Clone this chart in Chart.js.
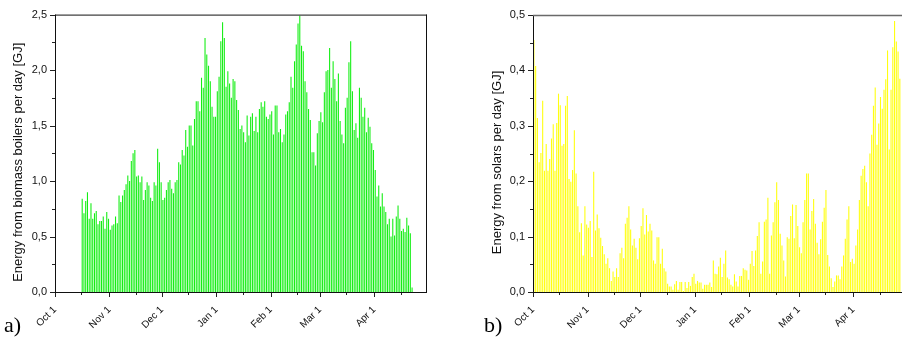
<!DOCTYPE html>
<html>
<head>
<meta charset="utf-8">
<script src="https://cdn.jsdelivr.net/npm/chart.js@4.4.1/dist/chart.umd.min.js"></script>
<style>
  body { margin: 0; width: 902px; height: 337px; overflow: hidden; position: relative; background: #fff; }
  canvas { position: absolute; top: 0; }
  .tag { position: absolute; top: 314px; font: 22px "Liberation Serif", "Times New Roman", serif; line-height: 22px; color: #000; }
</style>
</head>
<body>
<canvas id="chartA" width="450" height="337" style="left:0"></canvas>
<canvas id="chartB" width="460" height="337" style="left:450px"></canvas>
<div class="tag" style="left:4px">a)</div>
<div class="tag" style="left:484px">b)</div>
<script>
// days counted from Oct 1
const monthStarts = [0, 31, 61, 92, 123, 151, 182];
const monthLabels = ["Oct 1", "Nov 1", "Dec 1", "Jan 1", "Feb 1", "Mar 1", "Apr 1"];
const dayMax = 212;

// biomass boilers, GJ per day, first bar on day 15
const biomassFirstDay = 15;
const biomass = [
  0.84, 0.71, 0.82, 0.90, 0.66, 0.80, 0.66, 0.71, 0.73, 0.61,
  0.64, 0.64, 0.68, 0.57, 0.72, 0.66, 0.56, 0.60, 0.61, 0.68,
  0.62, 0.87, 0.81, 0.87, 0.92, 0.97, 1.05, 1.00, 1.18, 1.25,
  1.28, 1.04, 1.05, 0.99, 1.04, 0.83, 0.92, 0.99, 0.96, 0.85,
  0.82, 0.99, 0.96, 1.29, 1.17, 0.99, 0.83, 0.85, 0.92, 0.99,
  1.01, 0.93, 0.89, 0.99, 1.01, 1.17, 1.15, 1.28, 1.23, 1.46,
  1.31, 1.50, 1.50,
  1.32, 1.56, 1.72, 1.72, 1.63, 1.93, 1.84, 2.29, 2.14, 2.04,
  1.90, 1.67, 1.58, 1.58, 1.81, 1.94, 2.26, 2.43, 2.29, 1.85,
  1.99, 1.88, 1.75, 1.92, 1.90, 1.73, 1.64, 1.47, 1.50, 1.44,
  1.35, 1.59, 1.41, 1.58, 1.61, 1.45, 1.58, 1.44, 1.65, 1.71,
  1.67, 1.72, 1.58, 1.56, 1.60, 1.63, 1.42, 1.68, 1.68, 1.44,
  1.47, 1.35, 1.42, 1.60, 1.63, 1.71, 1.94, 1.84, 2.08, 2.23,
  2.42, 2.49, 2.22, 2.17,
  1.90, 1.80, 1.65, 1.55, 1.26, 1.26, 1.14, 1.43, 1.54, 1.62,
  1.53, 1.80, 1.99, 2.00, 2.20, 1.84, 2.08, 1.92, 1.72, 1.97,
  1.54, 1.42, 1.34, 1.66, 1.75, 2.07, 2.26, 1.81, 1.46, 1.52,
  1.39, 1.84, 1.75, 1.58, 1.66, 1.44, 1.57, 1.49, 1.34, 1.28,
  1.10, 0.86, 0.96, 0.77, 0.89, 0.77, 0.72, 0.61, 0.66, 0.50,
  0.66, 0.51, 0.68, 0.78, 0.66, 0.55, 0.57, 0.54, 0.67, 0.60,
  0.53, 0.04
];

// solar collectors, GJ per day, first bar on day 0
const solarFirstDay = 0;
const solar = [
  0.455, 0.408, 0.314, 0.234, 0.251, 0.345, 0.219, 0.267, 0.219, 0.240,
  0.277, 0.303, 0.219, 0.305, 0.358, 0.337, 0.264, 0.267, 0.336, 0.354,
  0.204, 0.199, 0.220, 0.292, 0.214, 0.155, 0.108, 0.124, 0.066, 0.155,
  0.122, 0.116, 0.128, 0.063, 0.217,
  0.111, 0.140, 0.115, 0.098, 0.083, 0.068, 0.051, 0.061, 0.043, 0.020,
  0.037, 0.027, 0.043, 0.027, 0.070, 0.080, 0.061, 0.123, 0.134, 0.155,
  0.113, 0.084, 0.096, 0.080, 0.059, 0.097, 0.119, 0.151, 0.104, 0.139,
  0.109, 0.123, 0.111, 0.057, 0.051, 0.099, 0.099, 0.051, 0.078, 0.043,
  0.037, 0.015, 0.010, 0.010, 0.004, 0.014, 0.020, 0.004, 0.018, 0.018,
  0.002, 0.018, 0.007, 0.018, 0.011, 0.027, 0.033, 0.015, 0.020, 0.017,
  0.017, 0.006, 0.013, 0.013, 0.013, 0.017, 0.009,
  0.057, 0.033, 0.032, 0.046, 0.062, 0.027, 0.051, 0.075, 0.026, 0.023,
  0.013, 0.010, 0.032, 0.019, 0.010, 0.029, 0.029, 0.043, 0.040, 0.039,
  0.022, 0.051, 0.074, 0.047, 0.075, 0.101, 0.126, 0.033, 0.055, 0.127,
  0.131, 0.170, 0.033, 0.102, 0.126, 0.162, 0.198, 0.166, 0.105, 0.084,
  0.057, 0.028, 0.099, 0.096, 0.137, 0.158, 0.097, 0.157, 0.119, 0.081,
  0.070, 0.126, 0.166, 0.214, 0.214, 0.113, 0.146, 0.168, 0.123, 0.089,
  0.068, 0.095, 0.127, 0.152, 0.184, 0.067, 0.046, 0.025, 0.009, 0.019,
  0.030, 0.030, 0.023, 0.046, 0.066, 0.096, 0.131, 0.155, 0.054, 0.060,
  0.051, 0.084, 0.113, 0.166, 0.210, 0.222, 0.228, 0.198, 0.155, 0.250,
  0.284, 0.336, 0.369, 0.266, 0.304, 0.352, 0.331, 0.365, 0.384, 0.436,
  0.257, 0.365, 0.442, 0.489, 0.452, 0.434, 0.385
];

const fontFamily = '"Liberation Sans", Arial, sans-serif';
Chart.defaults.font.family = fontFamily;
Chart.defaults.color = "#111";

function toPoints(firstDay, values) {
  return values.map((v, i) => ({ x: firstDay + i + 0.5, y: v }));
}

// axis lines, tick marks (major + minor) and the y title, Origin style
const frame = {
  id: "frame",
  afterDraw(chart, args, opts) {
    const { ctx, chartArea: a, scales: { x, y } } = chart;
    ctx.save();
    ctx.lineWidth = 1;
    ctx.strokeStyle = "#222";
    const line = (x1, y1, x2, y2) => {
      ctx.beginPath();
      ctx.moveTo(x1, y1);
      ctx.lineTo(x2, y2);
      ctx.stroke();
    };
    // x ticks
    monthStarts.forEach((d) => {
      let px = Math.round(x.getPixelForValue(d)) + 0.5;
      line(px, a.bottom, px, a.bottom + 5);
      if (d + 15 < dayMax) {
        px = Math.round(x.getPixelForValue(d + 15)) + 0.5;
        line(px, a.bottom, px, a.bottom + 3);
      }
    });
    // y ticks
    const n = Math.round(y.max / opts.minor);
    for (let i = 0; i <= n; i++) {
      const py = Math.round(y.getPixelForValue(i * opts.minor)) + 0.5;
      const len = i % 2 === 0 ? 5 : 3;
      line(a.left - len, py, a.left, py);
    }
    // frame
    ctx.strokeStyle = "#111";
    line(a.left + 0.5, a.top, a.left + 0.5, a.bottom);
    line(a.left, a.bottom + 0.5, a.right, a.bottom + 0.5);
    ctx.strokeStyle = opts.topColor;
    ctx.lineWidth = opts.topWidth;
    line(a.left, a.top + 0.5, a.right, a.top + 0.5);
    line(a.right - 0.5, a.top, a.right - 0.5, a.bottom);
    // y axis title
    ctx.translate(opts.titleX, (a.top + a.bottom) / 2 + opts.titleShift);
    ctx.rotate(-Math.PI / 2);
    ctx.fillStyle = "#111";
    ctx.font = "13px " + fontFamily;
    ctx.textAlign = "center";
    ctx.textBaseline = "middle";
    ctx.fillText(opts.title, 0, 0);
    ctx.restore();
  },
};

function makeChart(canvasId, points, color, yMax, yStep, minor, title, yWidth, titleX, rightPad, topPad, topColor, topWidth) {
  return new Chart(document.getElementById(canvasId), {
    type: "bar",
    data: {
      datasets: [{
        data: points,
        backgroundColor: color,
        borderWidth: 0,
        barPercentage: 0.62,
        categoryPercentage: 1,
      }],
    },
    options: {
      responsive: false,
      animation: false,
      devicePixelRatio: 1,
      layout: { padding: { left: 0, right: rightPad, top: topPad, bottom: 0 } },
      plugins: {
        legend: { display: false },
        tooltip: { enabled: false },
        frame: { minor: minor, topColor: topColor, topWidth: topWidth, title: title, titleX: titleX, titleShift: 9 },
      },
      scales: {
        x: {
          type: "linear",
          min: 0,
          max: dayMax,
          offset: false,
          grid: { display: false, drawTicks: false, offset: false },
          border: { display: false },
          afterBuildTicks: (s) => {
            s.ticks = monthStarts.map((d) => ({ value: d }));
          },
          afterFit: (s) => { s.height = 45; },
          ticks: {
            autoSkip: false,
            minRotation: 45,
            maxRotation: 45,
            padding: 12,
            font: { size: 10 },
            callback: (v) => monthLabels[monthStarts.indexOf(v)],
          },
        },
        y: {
          min: 0,
          max: yMax,
          grid: { display: false, drawTicks: false },
          border: { display: false },
          afterFit: (s) => { s.width = yWidth; },
          ticks: {
            stepSize: yStep,
            padding: 8,
            font: { size: 11 },
            callback: (v) => v.toFixed(1).replace(".", ","),
          },
        },
      },
    },
    plugins: [frame],
  });
}

makeChart("chartA", toPoints(biomassFirstDay, biomass), "#14ee14", 2.5, 0.5, 0.25,
  "Energy from biomass boilers per day [GJ]", 55, 18, 23, 14, "#111", 1);
makeChart("chartB", toPoints(solarFirstDay, solar), "#ffff10", 0.5, 0.1, 0.05,
  "Energy from solars per day [GJ]", 83, 47, 4, 15, "#6a6a6a", 1.6);
</script>
</body>
</html>
